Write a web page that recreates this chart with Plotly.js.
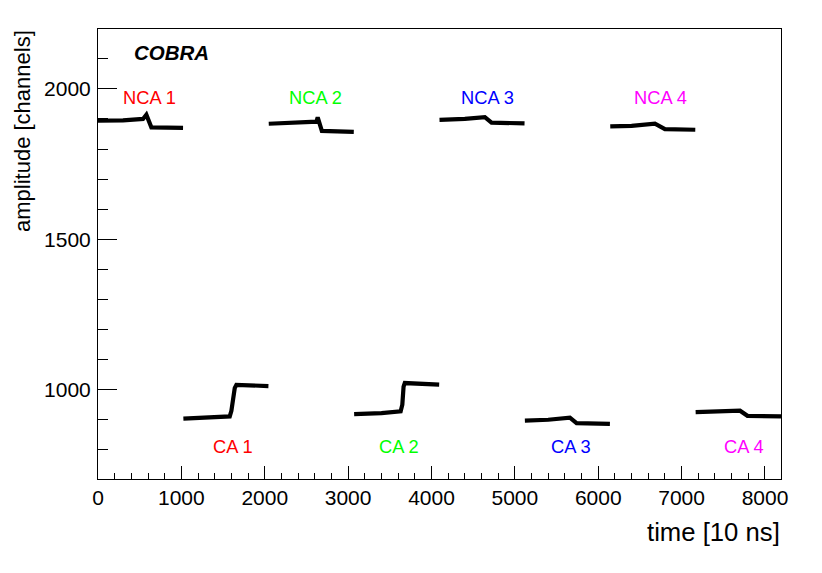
<!DOCTYPE html>
<html>
<head>
<meta charset="utf-8">
<script src="https://cdn.plot.ly/plotly-3.0.1.min.js"></script>
<style>html,body{margin:0;padding:0;background:#fff;}#chart{width:822px;height:573px;}</style>
</head>
<body>
<div id="chart"></div>
<script>
// Waveform breakpoints (time [10 ns], amplitude [channels])
var nca1T = [0, 300, 540, 580, 640, 1020];
var nca1V = [1894, 1895, 1900, 1914, 1872, 1870];
var ca1T = [1024, 1300, 1580, 1600, 1640, 1660, 2044];
var ca1V = [904, 906, 911, 930, 1005, 1016, 1012];
var nca2T = [2048, 2350, 2620, 2635, 2685, 3068];
var nca2V = [1884, 1887, 1891, 1905, 1860, 1857];
var ca2T = [3072, 3400, 3630, 3650, 3665, 3680, 4092];
var ca2V = [919, 922, 928, 950, 1010, 1022, 1017];
var nca3T = [4096, 4400, 4640, 4720, 5116];
var nca3V = [1897, 1900, 1906, 1888, 1885];
var ca3T = [5120, 5400, 5660, 5740, 6140];
var ca3V = [897, 900, 907, 889, 886];
var nca4T = [6144, 6400, 6680, 6800, 7164];
var nca4V = [1875, 1877, 1884, 1866, 1864];
var ca4T = [7168, 7450, 7700, 7790, 8192];
var ca4V = [925, 927, 930, 913, 911];

// Labels
var labelText = ["NCA 1", "NCA 2", "NCA 3", "NCA 4", "CA 1", "CA 2", "CA 3", "CA 4"];
var labelX = [617, 2610, 4676, 6743, 1617, 3610, 5672, 7748];
var labelY = [1971, 1971, 1971, 1971, 812, 812, 812, 812];
var labelColor = ["#ff0000", "#00ff00", "#0000ff", "#ff00ff", "#ff0000", "#00ff00", "#0000ff", "#ff00ff"];

var xTitle = "time [10 ns]";
var yTitle = "amplitude [channels]";
var tagText = "COBRA";

var segs = [[nca1T, nca1V], [ca1T, ca1V], [nca2T, nca2V], [ca2T, ca2V],
            [nca3T, nca3V], [ca3T, ca3V], [nca4T, nca4V], [ca4T, ca4V]];
var traces = segs.map(function (s) {
  return {x: s[0], y: s[1], type: 'scatter', mode: 'lines',
          line: {color: '#000000', width: 4.2}, hoverinfo: 'skip', showlegend: false};
});

var font = "Liberation Sans, Arial, Helvetica, sans-serif";
var annotations = labelText.map(function (t, i) {
  return {text: t, x: labelX[i], y: labelY[i], xref: 'x', yref: 'y',
          xanchor: 'center', yanchor: 'middle', showarrow: false,
          font: {family: font, size: 18.3, color: labelColor[i]}};
});
annotations.push({text: '<b><i>' + tagText + '</i></b>', xref: 'paper', yref: 'paper',
  x: (132 - 98) / 683, y: (479 - 52) / 450, xanchor: 'left', yanchor: 'middle',
  showarrow: false, font: {family: font, size: 20.5, color: '#000000'}});
annotations.push({text: xTitle, xref: 'paper', yref: 'paper',
  x: (782 - 98) / 683, y: (479 - 532) / 450, xanchor: 'right', yanchor: 'middle',
  showarrow: false, font: {family: font, size: 25.7, color: '#000000'}});
annotations.push({text: yTitle, xref: 'paper', yref: 'paper', textangle: -90,
  x: 0, xshift: -76, y: (479 - 131) / 450, xanchor: 'center', yanchor: 'middle',
  showarrow: false, font: {family: font, size: 22, color: '#000000'}});

var layout = {
  width: 822, height: 573,
  margin: {l: 98, r: 41, t: 29, b: 94, pad: 0},
  paper_bgcolor: '#ffffff', plot_bgcolor: '#ffffff',
  showlegend: false,
  xaxis: {range: [0, 8192], showgrid: false, zeroline: false,
          showline: true, mirror: true, linecolor: '#000000', linewidth: 1,
          ticks: 'inside', ticklen: 13, tickwidth: 1, tickcolor: '#000000',
          tick0: 0, dtick: 1000,
          minor: {ticks: 'inside', ticklen: 6, dtick: 200, tick0: 0, tickcolor: '#000000', showgrid: false},
          tickfont: {family: font, size: 21, color: '#000000'}},
  yaxis: {range: [703, 2199], showgrid: false, zeroline: false,
          showline: true, mirror: true, linecolor: '#000000', linewidth: 1,
          ticks: 'inside', ticklen: 19, tickwidth: 1, tickcolor: '#000000',
          tick0: 0, dtick: 500, ticklabelstandoff: 2,
          minor: {ticks: 'inside', ticklen: 10, dtick: 100, tick0: 0, tickcolor: '#000000', showgrid: false},
          tickfont: {family: font, size: 21, color: '#000000'}},
  annotations: annotations
};

Plotly.newPlot('chart', traces, layout, {displayModeBar: false, staticPlot: true});
</script>
</body>
</html>
